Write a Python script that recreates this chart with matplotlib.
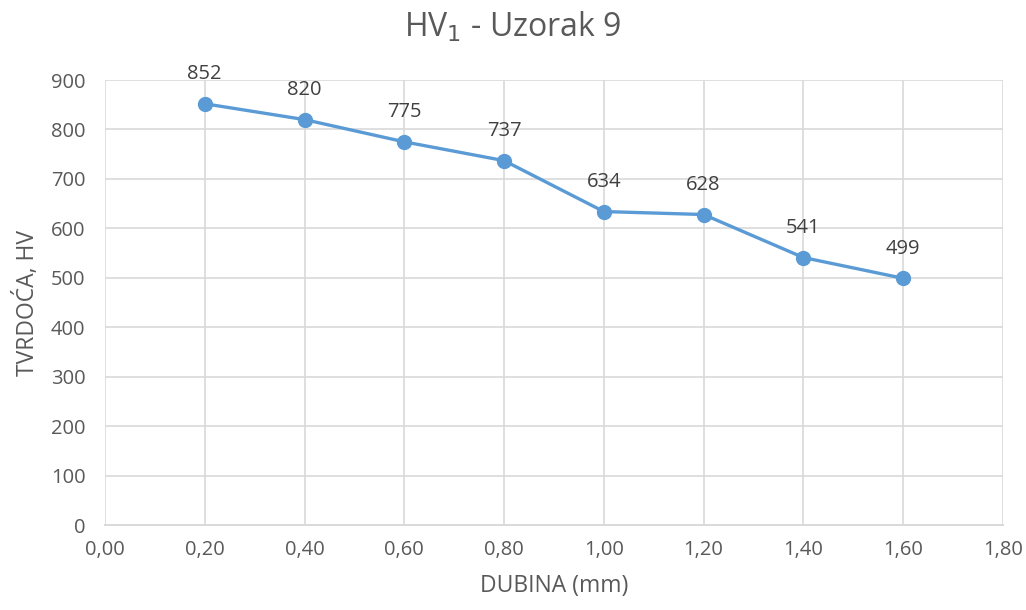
import matplotlib
matplotlib.use("Agg")
import matplotlib.pyplot as plt
from matplotlib.ticker import FuncFormatter

depth = [0.2, 0.4, 0.6, 0.8, 1.0, 1.2, 1.4, 1.6]
hardness = [852, 820, 775, 737, 634, 628, 541, 499]
x_ticks = [0.0, 0.2, 0.4, 0.6, 0.8, 1.0, 1.2, 1.4, 1.6, 1.8]
y_ticks = [0, 100, 200, 300, 400, 500, 600, 700, 800, 900]

plt.rcParams['font.family'] = ['Open Sans', 'DejaVu Sans']
text_col = '#595959'
line_col = '#5B9BD5'
grid_col = '#D9D9D9'

fig = plt.figure(figsize=(10.26, 6.10), dpi=100)
ax = fig.add_axes([0.1023, 0.1393, 0.8752, 0.7295])

ax.plot(depth, hardness, color=line_col, lw=2.4, marker='o', ms=10,
        markerfacecolor=line_col, markeredgecolor=line_col, zorder=3)
for x, y in zip(depth, hardness):
    ax.annotate(str(y), (x, y), xytext=(0, 14), textcoords='offset points',
                ha='center', va='bottom', fontsize=14.5, color='#404040')

ax.set_xlim(0, 1.8)
ax.set_ylim(0, 900)
ax.set_xticks(x_ticks)
ax.set_yticks(y_ticks)
ax.xaxis.set_major_formatter(FuncFormatter(lambda v, p: f"{v:.2f}".replace('.', ',')))
ax.grid(True, color=grid_col, lw=1.2)
ax.set_axisbelow(True)
for s in ['top', 'right', 'left']:
    ax.spines[s].set_visible(False)
ax.spines['bottom'].set_color(grid_col)
ax.spines['bottom'].set_linewidth(1.4)
ax.tick_params(axis='both', length=0, labelsize=14.5, labelcolor=text_col)
ax.tick_params(axis='x', pad=11)
ax.tick_params(axis='y', pad=14)

ax.set_xlabel('DUBINA (mm)', fontsize=16.5, color=text_col, labelpad=10)
ax.set_ylabel('TVRDOĆA, HV', fontsize=16.5, color=text_col, labelpad=8)
fig.text(0.5, 0.955, r'HV$_1$ - Uzorak 9', ha='center', va='center', fontsize=23, color=text_col)

fig.savefig('out.png', dpi=100)
